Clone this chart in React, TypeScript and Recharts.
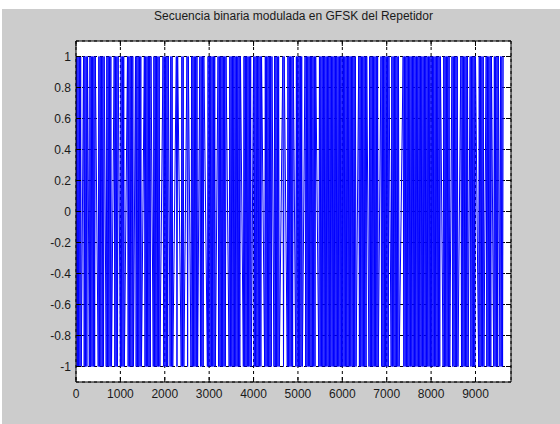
import React from 'react';
import { LineChart, Line, XAxis, YAxis, CartesianGrid } from 'recharts';

const TITLE = 'Secuencia binaria modulada en GFSK del Repetidor';
const xTicks = [0, 1000, 2000, 3000, 4000, 5000, 6000, 7000, 8000, 9000];
const yTicks = [-1, -0.8, -0.6, -0.4, -0.2, 0, 0.2, 0.4, 0.6, 0.8, 1];
const amplitude = 1;
const carrierStep = 15; // samples between successive carrier peaks in dense stretches
// dense stretches of the modulated carrier (sample index ranges)
const denseBands: [number, number][] = [
  [0, 120], [170, 260], [300, 440], [500, 640], [680, 800], [860, 960], [1000, 1090],
  [1160, 1300], [1340, 1480], [1540, 1700], [1740, 1890], [1960, 2080], [2120, 2190],
  [2260, 2300], [2370, 2430], [2500, 2540],
  [2590, 2740], [2790, 2890], [2960, 3150], [3200, 3390], [3450, 3710], [3770, 3960],
  [4000, 4190], [4250, 4420], [4460, 4590], [4660, 4700], [4760, 4900], [4950, 5110], [5160, 5410],
  [5470, 6310], [6370, 6560], [6600, 6810], [6870, 7050],
  [7100, 7290], [7370, 8210], [8270, 8430], [8470, 8610],
  [8670, 8840], [8880, 9010], [9070, 9200], [9240, 9360], [9410, 9520], [9550, 9630],
];

function buildSignal() {
  const pts: { n: number; v: number }[] = [];
  let sign = 1;
  let prevEnd: number | null = null;
  for (const [a, b] of denseBands) {
    if (prevEnd !== null) {
      const gap = a - prevEnd;
      const k = Math.max(0, Math.round(gap / 120) - 1);
      for (let i = 1; i <= k; i++) {
        sign = -sign;
        pts.push({ n: Math.round(prevEnd + (gap * i) / (k + 1)), v: sign * amplitude });
      }
    }
    let last = a;
    for (let n = a; n <= b; n += carrierStep) {
      sign = -sign;
      pts.push({ n, v: sign * amplitude });
      last = n;
    }
    prevEnd = last;
  }
  return pts;
}

const signal = buildSignal();
const font = { fontFamily: '"Liberation Sans", Arial, Helvetica, sans-serif', fontSize: 12, fill: '#1a1a1a' };

export default function App() {
  return (
    <div style={{ position: 'absolute', left: 0, top: 0, width: 560, height: 424, background: '#ffffff', overflow: 'hidden' }}>
      <div style={{ position: 'absolute', left: 2, top: 9, width: 558, height: 415, background: '#cccccc' }} />
      <div
        style={{
          position: 'absolute', left: 76, top: 9, width: 435, textAlign: 'center',
          fontFamily: '"Liberation Sans", Arial, Helvetica, sans-serif', fontSize: 12, color: '#1a1a1a', lineHeight: 'normal',
        }}
      >
        {TITLE}
      </div>
      <div style={{ position: 'absolute', left: 0, top: 0 }}>
        <LineChart width={560} height={424} data={signal} margin={{ top: 0, right: 0, bottom: 0, left: 0 }}>
          <CartesianGrid xAxisId="b" yAxisId="l" fill="#ffffff" stroke="#000" strokeDasharray="3 3" />
          <XAxis xAxisId="b" dataKey="n" type="number" domain={[0, 9800]} ticks={xTicks} interval={0}
            allowDataOverflow orientation="bottom" height={42} stroke="#000" tickSize={-5} tickMargin={12} tick={font} />
          <XAxis xAxisId="t" dataKey="n" type="number" domain={[0, 9800]} ticks={xTicks} interval={0}
            allowDataOverflow orientation="top" height={41} stroke="#000" tickSize={-5} tickFormatter={() => ''} />
          <YAxis yAxisId="l" type="number" domain={[-1.1, 1.1]} ticks={yTicks} interval={0}
            allowDataOverflow orientation="left" width={76} stroke="#000" tickSize={-5} tickMargin={10} tick={font} />
          <YAxis yAxisId="r" type="number" domain={[-1.1, 1.1]} ticks={yTicks} interval={0}
            allowDataOverflow orientation="right" width={49} stroke="#000" tickSize={-5} tickFormatter={() => ''} />
          <Line xAxisId="b" yAxisId="l" dataKey="v" type="linear" stroke="#0000ff" strokeWidth={1}
            dot={false} activeDot={false} isAnimationActive={false} />
        </LineChart>
      </div>
    </div>
  );
}
